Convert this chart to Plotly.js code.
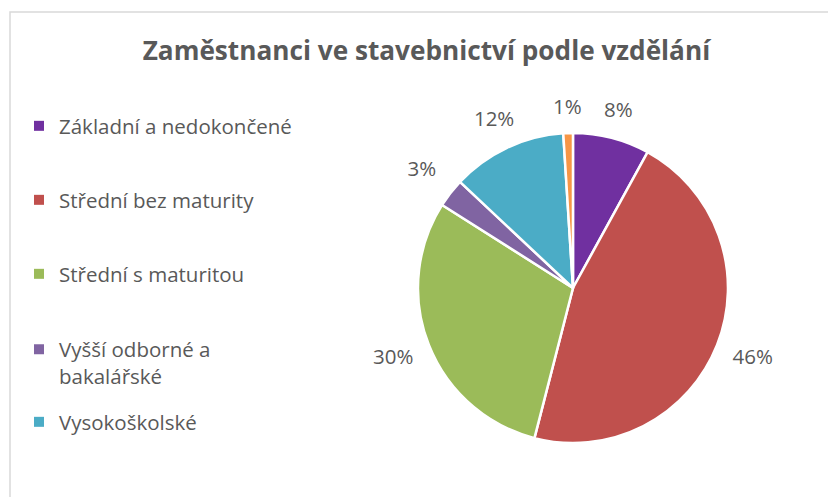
<!DOCTYPE html>
<html>
<head>
<meta charset="utf-8">
<script src="https://cdn.plot.ly/plotly-3.0.1.min.js"></script>
<style>html,body{margin:0;padding:0;background:#fff;}#chart{width:828px;height:497px;}</style>
</head>
<body>
<div id="chart"></div>
<script>
// Data
const categories = ["Základní a nedokončené", "Střední bez maturity", "Střední s maturitou", "Vyšší odborné a bakalářské", "Vysokoškolské", "Neuvedeno"];
const legendLabels = ["Základní a nedokončené", "Střední bez maturity", "Střední s maturitou", "Vyšší odborné a<br>bakalářské", "Vysokoškolské"];
const shares = [8, 46, 30, 3, 12, 1];
const colors = ["#7030A0", "#C0504D", "#9BBB59", "#8064A2", "#4BACC6", "#F79646"];

const textColor = "#595959";
const fontFam = "'Open Sans', 'Noto Sans', sans-serif";
const W = 828, H = 497;
const pieDomX = [0.5048, 0.8792];
const pieDomY = [0.1087, 0.7324];
// label axes share the pie's centre and scale (1 unit = pie radius), widened to hold outside labels
const SPAN = 1.3;
const cx = (pieDomX[0] + pieDomX[1]) / 2, hx = (pieDomX[1] - pieDomX[0]) / 2 * SPAN;
const cy = (pieDomY[0] + pieDomY[1]) / 2, hy = (pieDomY[1] - pieDomY[0]) / 2 * SPAN;

const pie = {
  type: "pie",
  labels: categories,
  values: shares,
  sort: false,
  direction: "clockwise",
  rotation: 0,
  marker: {colors: colors, line: {color: "#ffffff", width: 2.5}},
  textinfo: "none",
  showlegend: false,
  domain: {x: pieDomX, y: pieDomY},
  hoverinfo: "label+percent"
};

// percentage labels placed outside each slice at its mid-angle
const total = shares.reduce((a, b) => a + b, 0);
let cum = 0;
const lblX = [], lblY = [], lblText = [];
shares.forEach(v => {
  const mid = (cum + v / 2) / total * 2 * Math.PI;
  cum += v;
  const s = Math.sin(mid), c = Math.cos(mid);
  const k = 1.15 + 0.105 * Math.abs(s);
  lblX.push(k * s);
  lblY.push(k * c);
  lblText.push(Math.round(v / total * 100) + "%");
});
const labelsTrace = {
  type: "scatter", mode: "text",
  x: lblX, y: lblY, text: lblText,
  textposition: "middle center",
  textfont: {family: fontFam, size: 20.5, color: textColor},
  cliponaxis: false, showlegend: false, hoverinfo: "skip"
};

// legend entries (the reference legend lists the first five categories)
const legendY = [126, 200, 274, 363, 422];
const legendTraces = legendLabels.map((lab, i) => ({
  type: "scatter",
  mode: "markers",
  x: [null], y: [null],
  name: lab,
  legend: i === 0 ? "legend" : "legend" + (i + 1),
  marker: {symbol: "square", size: 10, color: colors[i]},
  showlegend: true,
  hoverinfo: "skip"
}));

const layout = {
  width: W, height: H,
  margin: {l: 0, r: 0, t: 0, b: 0},
  paper_bgcolor: "#ffffff",
  plot_bgcolor: "rgba(0,0,0,0)",
  font: {family: fontFam, color: textColor},
  title: {
    text: "<b>Zaměstnanci ve stavebnictví podle vzdělání</b>",
    font: {family: fontFam, size: 26.2, color: textColor},
    x: 0.515, xref: "paper", xanchor: "center",
    y: 1 - 51 / H, yref: "container", yanchor: "middle"
  },
  xaxis: {visible: false, domain: [cx - hx, cx + hx], range: [-SPAN, SPAN], fixedrange: true},
  yaxis: {visible: false, domain: [cy - hy, cy + hy], range: [-SPAN, SPAN], fixedrange: true},
  showlegend: true,
  shapes: [{
    type: "rect", xref: "paper", yref: "paper",
    x0: 10 / W, x1: 1.02, y0: -0.02, y1: 1 - 12 / H,
    line: {color: "#D9D9D9", width: 1.5},
    fillcolor: "rgba(0,0,0,0)"
  }]
};
legendY.forEach((py, i) => {
  layout[i === 0 ? "legend" : "legend" + (i + 1)] = {
    x: 19 / W, xanchor: "left",
    y: 1 - py / H, yanchor: "middle",
    font: {family: fontFam, size: 20.5, color: textColor},
    bgcolor: "rgba(0,0,0,0)",
    valign: "top"
  };
});

Plotly.newPlot("chart", [pie, labelsTrace].concat(legendTraces), layout, {displayModeBar: false, staticPlot: true});
</script>
</body>
</html>
